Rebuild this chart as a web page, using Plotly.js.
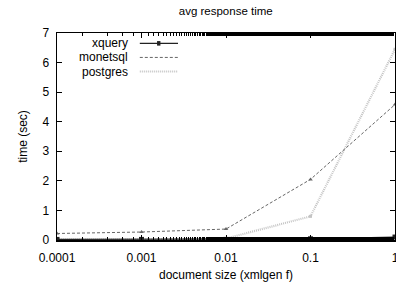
<!DOCTYPE html>
<html>
<head>
<meta charset="utf-8">
<script src="https://cdn.plot.ly/plotly-3.0.1.min.js"></script>
<style>html,body{margin:0;padding:0;background:#fff;}#chart{width:396px;height:286px;}</style>
</head>
<body>
<div id="chart"></div>
<script>
const docSizes = [0.0001, 0.001, 0.01, 0.1, 1];
const xquery = [0.02, 0.02, 0.02, 0.04, 0.1];
const monetsql = [0.22, 0.27, 0.37, 2.05, 4.58];
const postgres = [0.01, 0.01, 0.05, 0.8, 6.45];
const seriesNames = ['xquery', 'monetsql', 'postgres'];
const xTickVals = [0.0001, 0.001, 0.01, 0.1, 1];
const xTickText = ['0.0001', '0.001', '0.01', '0.1', '1'];

const font = 'Liberation Sans, Arial, sans-serif';
const styles = [
  {color: '#222', width: 1.2, dash: 'solid', symbol: 'square', msize: 5},
  {color: '#666', width: 1, dash: '3px,2px', symbol: 'triangle-up', msize: 4},
  {color: '#c4c4c4', width: 2.2, dash: '1px,1px', symbol: 'square', msize: 3}
];
const data = [xquery, monetsql, postgres];

const traces = [2, 1, 0].map(i => ({
  x: docSizes, y: data[i], name: seriesNames[i], type: 'scatter', mode: 'lines+markers',
  line: {color: styles[i].color, width: styles[i].width, dash: styles[i].dash},
  marker: {color: styles[i].color, symbol: styles[i].symbol, size: styles[i].msize},
  showlegend: false, cliponaxis: true
}));

// custom gnuplot-style legend (text right aligned, sample on right)
const annotations = [];
const shapes = [];
const legY = [0.95, 0.882, 0.814];
for (let i = 0; i < 3; i++) {
  annotations.push({xref: 'paper', yref: 'paper', x: 0.216, y: legY[i], xanchor: 'right', yanchor: 'middle',
    text: seriesNames[i], showarrow: false, font: {family: font, size: 12, color: '#000'}});
  shapes.push({type: 'line', xref: 'paper', yref: 'paper', x0: 0.245, x1: 0.358, y0: legY[i], y1: legY[i],
    line: {color: styles[i].color, width: styles[i].width, dash: styles[i].dash}});
}
shapes.push({type: 'rect', xref: 'paper', yref: 'paper', x0: 0.296, x1: 0.306, y0: legY[0] - 0.011, y1: legY[0] + 0.011,
  fillcolor: styles[0].color, line: {width: 0}});

const layout = {
  width: 396, height: 286,
  margin: {l: 57, r: 1, t: 33, b: 46},
  paper_bgcolor: '#fff', plot_bgcolor: '#fff',
  font: {family: font, size: 12, color: '#000'},
  title: {text: 'avg response time', font: {family: font, size: 11.5, color: '#000'}, x: 0.57, xanchor: 'center', y: 0.96, yanchor: 'middle'},
  xaxis: {
    type: 'log', range: [-4, 0], tickvals: xTickVals, ticktext: xTickText,
    ticks: 'inside', ticklen: 5, tickcolor: '#000', showline: true, linecolor: '#000', linewidth: 1.5, mirror: 'ticks',
    showgrid: false, zeroline: false,
    minor: {ticks: 'inside', ticklen: 3, tickcolor: '#000', showgrid: false},
    tickfont: {family: font, size: 12}, ticklabeloverflow: 'allow', ticklabelstandoff: 6,
    title: {text: 'document size (xmlgen f)', font: {family: font, size: 12}, standoff: 6}
  },
  yaxis: {
    range: [0, 7], dtick: 1, tick0: 0,
    ticks: 'inside', ticklen: 5, tickcolor: '#000', showline: true, linecolor: '#000', linewidth: 1.5, mirror: 'ticks',
    showgrid: false, zeroline: false,
    tickfont: {family: font, size: 12}, ticklabelstandoff: 4,
    title: {text: 'time (sec)', font: {family: font, size: 12}, standoff: 12}
  },
  annotations: annotations,
  shapes: shapes,
  showlegend: false
};

Plotly.newPlot('chart', traces, layout, {displayModeBar: false, staticPlot: true});
</script>
</body>
</html>
